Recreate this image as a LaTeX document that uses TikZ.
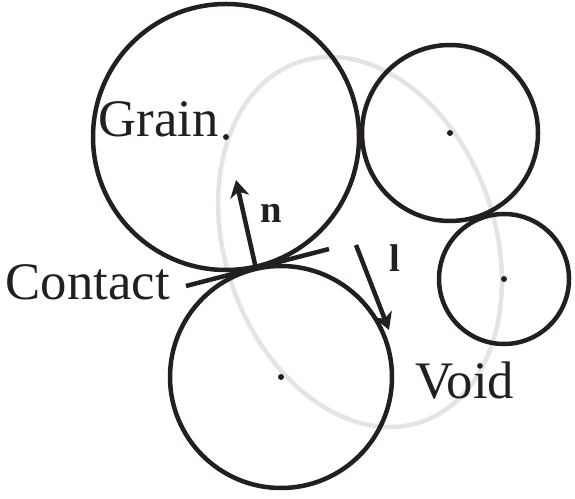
\documentclass[tikz,border=0pt]{standalone}
\usepackage{fontspec}
\setmainfont{Liberation Serif}
\usetikzlibrary{arrows.meta}
\definecolor{inkblack}{RGB}{35,31,32}
\definecolor{poregray}{RGB}{228,228,228}
\begin{document}
\begin{tikzpicture}[
  rim/.style={line width=0.09cm, draw=inkblack},
  porerim/.style={line width=0.09cm, draw=poregray},
  vec/.style={line width=0.09cm, draw=inkblack, -{Stealth[length=0.34cm,width=0.38cm,inset=0.1cm]}},
  centerdot/.style={fill=inkblack},
  lbl/.style={inner sep=0pt, text=inkblack, font=\fontsize{30}{32}\selectfont},
  veclbl/.style={inner sep=0pt, text=inkblack, font=\fontsize{22}{24}\selectfont\bfseries}]
\useasboundingbox (0,0) rectangle (11.5,9.96);
% grain centres and the void
\coordinate (grain) at (4.52,7.22);
\coordinate (upper) at (9.00,7.30);
\coordinate (side) at (10.08,4.38);
\coordinate (lower) at (5.62,2.42);
\coordinate (pore) at (7.20,5.12);
\draw[porerim] (pore) circle [x radius=2.70, y radius=3.80, rotate=19];
% grains
\draw[rim] (grain) circle (2.66);
\draw[rim] (upper) circle (1.76);
\draw[rim] (side) circle (1.30);
\draw[rim] (lower) circle (2.22);
\foreach \c in {grain,upper,side,lower}
  \fill[centerdot] (\c) circle (0.06);
% contact plane, normal and branch vector
\coordinate (contact) at (5.11,4.63);
\coordinate (tanL) at (3.72,4.24);
\coordinate (tanR) at (6.58,4.98);
\coordinate (nTip) at (4.72,6.36);
\coordinate (lTail) at (7.12,5.06);
\coordinate (lTip) at (7.78,3.36);
\draw[rim] (tanL) -- (tanR);
\draw[vec] (contact) -- (nTip);
\draw[vec] (lTail) -- (lTip);
% labels
\node[lbl, anchor=base east] (grainlbl) at (4.38,7.22) {Grain};
\node[lbl, anchor=base east] (contactlbl) at (3.40,3.96) {Contact};
\node[lbl, anchor=base west] (voidlbl) at (8.30,2.00) {Void};
\node[veclbl, anchor=base west] (nlbl) at (5.20,5.50) {n};
\node[veclbl, anchor=base west] (llbl) at (7.78,4.52) {l};
\end{tikzpicture}
\end{document}
